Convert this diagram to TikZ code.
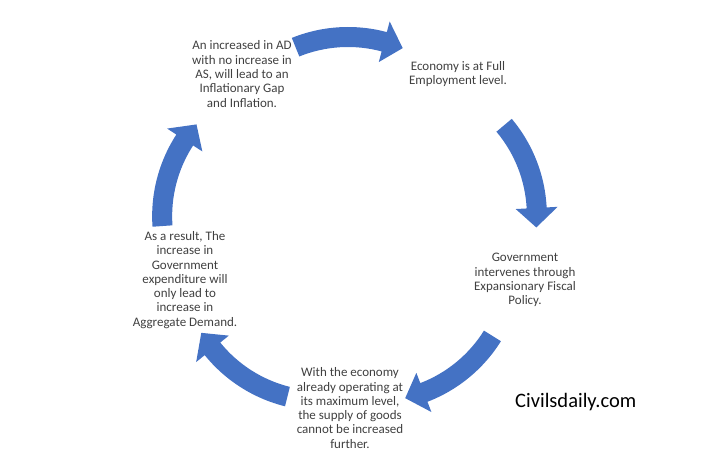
\documentclass[tikz,border=0pt]{standalone}
\usepackage{fontspec}
\setmainfont{Carlito}
\definecolor{cycleblue}{RGB}{68,114,196}
\definecolor{stagegray}{RGB}{64,64,64}
\tikzset{
  every node/.style={
    inner sep=1.5pt
  },
  stage/.style={
    align=center,
    text=stagegray,
    font=\fontsize{13}{14.3}\selectfont
  },
  cyclearrow/.pic={
    \fill[cycleblue]
      ([shift={(0,-140)}]112:150) arc[start angle=112,end angle=75,radius=150]
      -- ([shift={(0,-140)}]75:161)
      -- ([shift={(0,-140)}]67:140)
      -- ([shift={(0,-140)}]75:119)
      -- ([shift={(0,-140)}]75:130) arc[start angle=75,end angle=112,radius=130]
      -- cycle;
  }
}

\begin{document}
\begin{tikzpicture}[x=1pt,y=1pt]

    \useasboundingbox (0,0) rectangle (726,475);

    % stages of the cycle
    \node[stage] (gap) at (242,401)
        {An increased in AD\\with no increase in\\AS, will lead to an\\Inflationary Gap\\and Inflation.};
    \node[stage] (full) at (458,401)
        {Economy is at Full\\Employment level.};
    \node[stage] (fiscal) at (525,195)
        {Government\\intervenes through\\Expansionary Fiscal\\Policy.};
    \node[stage] (supply) at (350,67)
        {With the economy\\already operating at\\its maximum level,\\the supply of goods\\cannot be increased\\further.};
    \node[stage] (demand) at (185,195)
        {As a result, The\\increase in\\Government\\expenditure will\\only lead to\\increase in\\Aggregate Demand.};

    % curved arrows between stages
    \pic[rotate=0]    at (348,438) {cyclearrow};
    \pic[rotate=-72]  at (530,303) {cyclearrow};
    \pic[rotate=-144] at (456,100) {cyclearrow};
    \pic[rotate=144]  at (239,101) {cyclearrow};
    \pic[rotate=72]   at (169,302) {cyclearrow};

    % watermark
    \node[anchor=base west, inner sep=0pt, font=\fontsize{20.5}{23}\selectfont] (mark) at (515,68)
        {Civilsdaily.com};

\end{tikzpicture}
\end{document}
